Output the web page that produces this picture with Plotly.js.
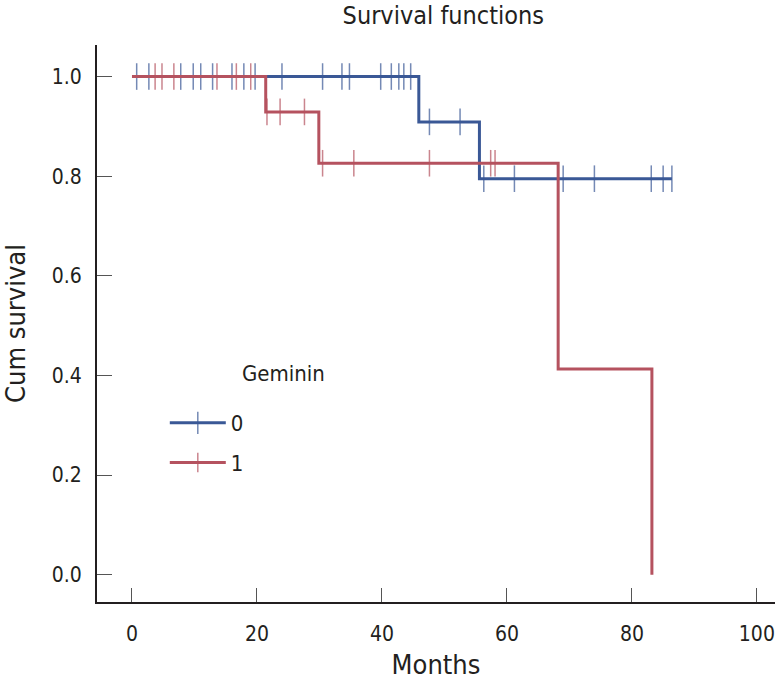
<!DOCTYPE html>
<html><head><meta charset="utf-8">
<script src="https://cdn.plot.ly/plotly-3.0.1.min.js"></script>
<style>html,body{margin:0;padding:0;background:#fff}</style>
</head><body><div id="chart" style="width:775px;height:680px"></div>
<script>
// ---- data ----
const groupNames = ['0', '1'];
const legendTitle = 'Geminin';

// Group 0 (blue): event times (months) and survival after each event
const eventTimes0 = [0, 45.9, 55.6];
const survival0 = [1.0, 0.909, 0.795];
const censorTimes0 = [0.75, 2.7, 7.8, 9.8, 11.0, 12.9, 16.0, 17.9, 19.7, 24.0, 30.5,
  33.6, 34.8, 39.8, 41.5, 42.7, 43.5, 44.6, 47.6, 52.5, 56.3, 61.2, 69.0, 74.0,
  83.1, 85.0, 86.4];

// Group 1 (red)
const eventTimes1 = [0, 21.4, 29.9, 68.2, 83.2];
const survival1 = [1.0, 0.929, 0.826, 0.413, 0.0];
const censorTimes1 = [3.7, 4.8, 6.7, 13.6, 16.7, 19.0, 21.6, 23.7, 27.6, 30.5, 35.5,
  47.6, 57.4, 58.1];

const xTickVals = [0, 20, 40, 60, 80, 100];
const yTickVals = [0, 0.2, 0.4, 0.6, 0.8, 1.0];
const yTickText = ['0.0', '0.2', '0.4', '0.6', '0.8', '1.0'];

// ---- styling ----
const colors = ['#3a5896', '#b5525f'];
const FONT = '"DejaVu Sans Condensed", "Liberation Sans Narrow", sans-serif';
const TXT = '#231f20';

function buildCurve(ev, sv, cens) {
  const pts = [];
  ev.forEach((t, i) => pts.push({x: t, y: sv[i], c: false}));
  cens.forEach(t => {
    let lvl = sv[0];
    for (let i = 0; i < ev.length; i++) if (ev[i] <= t) lvl = sv[i];
    pts.push({x: t, y: lvl, c: true});
  });
  pts.sort((a, b) => a.x - b.x);
  return pts;
}

const groups = [
  [eventTimes0, survival0, censorTimes0],
  [eventTimes1, survival1, censorTimes1]
];

const traces = groups.map((g, k) => {
  const pts = buildCurve(g[0], g[1], g[2]);
  return {
    type: 'scatter',
    mode: 'lines+markers',
    name: groupNames[k],
    legendgroup: 'g' + k,
    x: pts.map(p => p.x),
    y: pts.map(p => p.y),
    line: {shape: 'hv', color: colors[k], width: 3},
    marker: {
      symbol: 'line-ns',
      size: pts.map(p => p.c ? 19 : 0),
      color: colors[k],
      line: {color: colors[k], width: 1.5}
    },
    hoverinfo: 'x+y'
  };
});

const layout = {
  width: 775, height: 680,
  margin: {l: 97, r: 0, t: 45, b: 78},
  paper_bgcolor: '#ffffff', plot_bgcolor: '#ffffff',
  font: {family: FONT, color: TXT, size: 21},
  title: {
    text: 'Survival functions',
    font: {family: FONT, size: 25, color: TXT},
    x: 0.572, xref: 'container', xanchor: 'center',
    y: 0.977, yref: 'container', yanchor: 'middle'
  },
  xaxis: {
    range: [-5.6, 102.9],
    tickvals: xTickVals,
    ticktext: xTickVals.map(String),
    ticks: 'inside', ticklen: 14, tickwidth: 1, tickcolor: '#555',
    showline: true, linecolor: TXT, linewidth: 2,
    showgrid: false, zeroline: false,
    tickfont: {family: FONT, size: 21, color: TXT},
    ticklabelstandoff: 12,
    ticklabeloverflow: 'allow',
    title: {text: 'Months', font: {family: FONT, size: 27, color: TXT}, standoff: 12},
    fixedrange: true
  },
  yaxis: {
    range: [-0.0546, 1.0633],
    tickvals: yTickVals,
    ticktext: yTickText,
    ticks: 'inside', ticklen: 15, tickwidth: 1, tickcolor: '#555',
    showline: true, linecolor: TXT, linewidth: 2,
    showgrid: false, zeroline: false,
    tickfont: {family: FONT, size: 21, color: TXT},
    ticklabelstandoff: 9,
    ticklabeloverflow: 'allow',
    title: {text: 'Cum survival', font: {family: FONT, size: 27, color: TXT}, standoff: 24},
    fixedrange: true
  },
  showlegend: true,
  legend: {
    font: {family: FONT, size: 22, color: TXT},
    x: 0.1, xanchor: 'left',
    y: 0.359, yanchor: 'top',
    bgcolor: 'rgba(0,0,0,0)',
    traceorder: 'grouped',
    tracegroupgap: 8,
    itemwidth: 56,
    itemsizing: 'trace'
  },
  annotations: [{
    text: legendTitle,
    xref: 'paper', yref: 'paper',
    x: 0.2109, y: 0.4108, xanchor: 'left', yanchor: 'middle',
    showarrow: false,
    font: {family: FONT, size: 22, color: TXT}
  }]
};

Plotly.newPlot('chart', traces, layout, {displayModeBar: false});
</script>
</body></html>
